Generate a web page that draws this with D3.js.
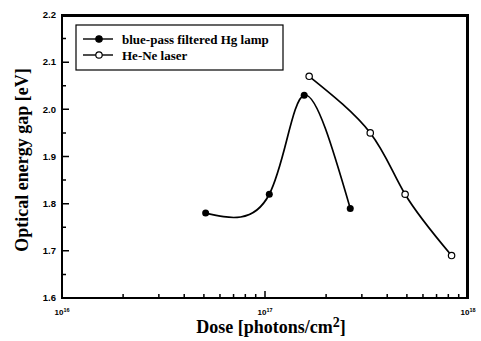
<html>
<head>
<meta charset="utf-8">
<script src="https://d3js.org/d3.v7.min.js"></script>
<style>
body { margin: 0; background: #fff; }
</style>
</head>
<body>
<svg width="481" height="341"></svg>
<script>
// data
var hgDose = [5.1e16, 1.05e17, 1.56e17, 2.63e17];
var hgGap = [1.78, 1.82, 2.03, 1.79];
var heneDose = [1.65e17, 3.3e17, 4.9e17, 8.3e17];
var heneGap = [2.07, 1.95, 1.82, 1.69];
var yTicks = [1.6, 1.7, 1.8, 1.9, 2.0, 2.1, 2.2];
var xTicks = [1e16, 1e17, 1e18];
var seriesNames = ["blue-pass filtered Hg lamp", "He-Ne laser"];

var svg = d3.select("svg"),
    margin = {top: 15, right: 13, bottom: 43, left: 62},
    width = 481 - margin.left - margin.right,
    height = 341 - margin.top - margin.bottom,
    g = svg.append("g").attr("transform", `translate(${margin.left},${margin.top})`);

var x = d3.scaleLog().domain([1e16, 1e18]).range([0, width]);
var y = d3.scaleLinear().domain([1.6, 2.2]).range([height, 0]);

// minor ticks
var xMinor = [];
[1e16, 1e17].forEach(function(d) { for (var k = 2; k <= 9; k++) xMinor.push(d * k); });
var yMinor = d3.range(1.65, 2.2, 0.1);

g.append("rect").attr("width", width).attr("height", height)
  .attr("fill", "none").attr("stroke", "#000").attr("stroke-width", 2);
g.append("path").attr("d", `M0,0.5H${width - 0.5}V${height}`)
  .attr("fill", "none").attr("stroke", "#000").attr("stroke-width", 3);

// inward ticks on left and bottom only
var tickPath = "";
xTicks.forEach(t => { tickPath += `M${x(t)},${height}v-7`; });
xMinor.forEach(t => { tickPath += `M${x(t)},${height}v-4`; });
yTicks.forEach(t => { tickPath += `M0,${y(t)}h7`; });
yMinor.forEach(t => { tickPath += `M0,${y(t)}h4`; });
g.append("path").attr("d", tickPath)
  .attr("fill", "none").attr("stroke", "#000").attr("stroke-width", 1.5);

// tick labels
g.selectAll(".ylab").data(yTicks).enter().append("text")
  .attr("x", -6).attr("y", d => y(d)).attr("dy", "0.35em")
  .attr("text-anchor", "end")
  .style("font", "bold 9.5px 'Liberation Sans', Arial, sans-serif")
  .text(d => d.toFixed(1));

var xl = g.selectAll(".xlab").data(xTicks).enter().append("text")
  .attr("x", d => x(d)).attr("y", height + 17)
  .attr("text-anchor", "middle")
  .style("font", "bold 8px 'Liberation Sans', Arial, sans-serif");
xl.append("tspan").text("10");
xl.append("tspan").attr("dy", -3).style("font-size", "5.5px").text(d => Math.round(Math.log10(d)));

// axis titles
svg.append("text")
  .attr("x", 271).attr("y", 333)
  .attr("text-anchor", "middle")
  .style("font", "bold 18px 'Liberation Serif', 'Times New Roman', serif")
  .call(function(t) {
    t.append("tspan").text("Dose [photons/cm");
    t.append("tspan").attr("dy", -6).style("font-size", "14px").text("2");
    t.append("tspan").attr("dy", 6).text("]");
  });

svg.append("text")
  .attr("transform", `translate(28,160) rotate(-90)`)
  .attr("text-anchor", "middle")
  .style("font", "bold 18px 'Liberation Serif', 'Times New Roman', serif")
  .text("Optical energy gap [eV]");

// curves
var line = d3.line().x(d => x(d[0])).y(d => y(d[1])).curve(d3.curveNatural);
var hg = hgDose.map((d, i) => [d, hgGap[i]]);
var hene = heneDose.map((d, i) => [d, heneGap[i]]);

[hg, hene].forEach(function(s) {
  g.append("path").datum(s).attr("d", line)
    .attr("fill", "none").attr("stroke", "#000").attr("stroke-width", 1.7);
});

g.selectAll(".hg").data(hg).enter().append("circle")
  .attr("cx", d => x(d[0])).attr("cy", d => y(d[1])).attr("r", 3.5)
  .attr("fill", "#000");
g.selectAll(".hene").data(hene).enter().append("circle")
  .attr("cx", d => x(d[0])).attr("cy", d => y(d[1])).attr("r", 3.2)
  .attr("fill", "#fff").attr("stroke", "#000").attr("stroke-width", 1.2);

// legend
var leg = svg.append("g").attr("transform", "translate(76,25)");
leg.append("rect").attr("width", 207).attr("height", 45)
  .attr("fill", "#fff").attr("stroke", "#000").attr("stroke-width", 1.2);
seriesNames.forEach(function(name, i) {
  var yy = 14 + i * 16;
  leg.append("line").attr("x1", 7).attr("x2", 37).attr("y1", yy).attr("y2", yy)
    .attr("stroke", "#000").attr("stroke-width", 1.4);
  leg.append("circle").attr("cx", 23).attr("cy", yy).attr("r", 3.2)
    .attr("fill", i === 0 ? "#000" : "#fff").attr("stroke", "#000").attr("stroke-width", 1.2);
  leg.append("text").attr("x", 46).attr("y", yy).attr("dy", "0.35em")
    .style("font", "bold 13px 'Liberation Serif', 'Times New Roman', serif")
    .text(name);
});
</script>
</body>
</html>
